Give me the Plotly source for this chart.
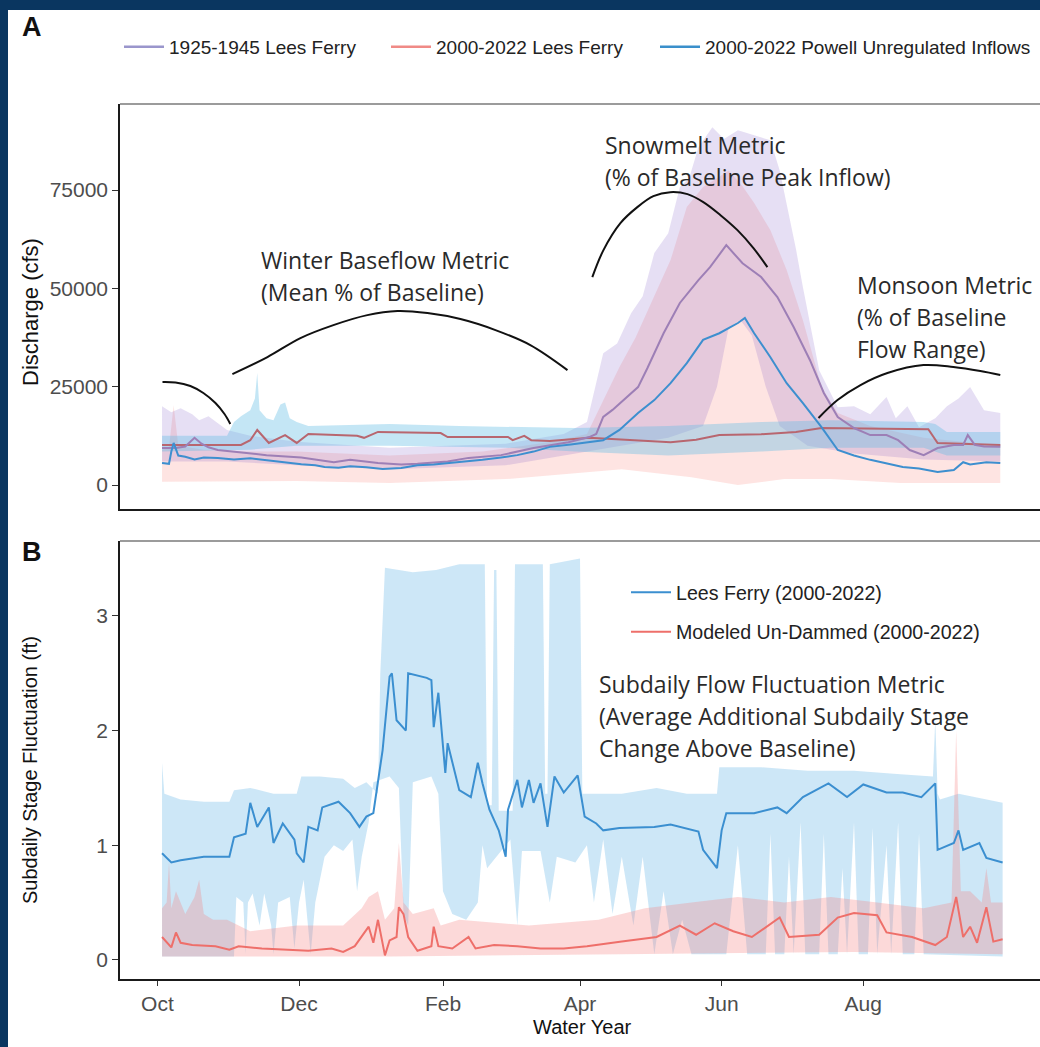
import plotly.graph_objects as go

# ---------------- shared x axis (days since 1 Oct of the water year) ----------------
month_tick_days = [0, 61, 123, 182, 243, 304]
month_tick_labels = ["Oct", "Dec", "Feb", "Apr", "Jun", "Aug"]

# ---------------- Panel A : discharge (cfs) ----------------
a_tick_vals = [0, 25000, 50000, 75000]
a_tick_text = ["0", "25000", "50000", "75000"]

# 2000-2022 Powell unregulated inflows (median)
inflow_day = [2, 5, 6, 7, 9, 12, 16, 20, 26, 33, 40, 47, 54, 62, 68, 72, 78, 83, 90, 97,
              105, 112, 119, 126, 133, 140, 148, 155, 162, 169, 178, 186, 192, 199, 207, 214, 221, 228, 235, 242,
              246, 250, 253, 257, 264, 271, 278, 286, 293, 300, 307, 314, 321, 328, 336, 343, 347, 350, 357, 363]
inflow_cfs = [5600, 5400, 8500, 10700, 7500, 7200, 6500, 7000, 6900, 6500, 6800, 6300, 5800, 5300, 5000, 4600, 4400, 4800, 4500, 4100,
              4300, 5000, 5200, 5600, 5900, 6400, 7000, 7600, 8500, 9700, 10300, 10900, 11400, 14000, 18300, 21600, 25900, 31000, 36900, 38600,
              39800, 41200, 42500, 38600, 32500, 25900, 20800, 14700, 8900, 7500, 6400, 5500, 4600, 4200, 3300, 3800, 5800, 5200, 5800, 5600]

# 1925-1945 Lees Ferry (median)
hist_day = [2, 8, 12, 16, 19, 22, 26, 35, 47, 62, 76, 83, 95, 105, 112, 125, 134, 148, 162, 177,
            186, 189, 192, 196, 207, 211, 218, 225, 233, 238, 245, 252, 260, 267, 274, 281, 287, 293, 300, 307,
            314, 319, 324, 330, 336, 343, 347, 349, 352, 356, 363]
hist_cfs = [9400, 9400, 9800, 12000, 10500, 9600, 8900, 8300, 7600, 7000, 5800, 6400, 5600, 5200, 5400, 6000, 6900, 7600, 9400, 10900,
            12200, 13000, 17300, 19100, 24900, 29700, 38600, 46300, 52100, 55400, 61000, 56400, 52900, 47800, 40200, 31800, 23400, 17300, 14500, 12700,
            12700, 11400, 8900, 7600, 9400, 10200, 10200, 12700, 10200, 9800, 9700]

# 2000-2022 Lees Ferry (median)
lf_day = [2, 36, 40, 43, 48, 55, 60, 65, 86, 89, 95, 122, 125, 151, 153, 158, 161, 169, 186, 200,
          221, 232, 242, 260, 275, 286, 310, 332, 336, 363]
lf_cfs = [10200, 10200, 11400, 14000, 10700, 12700, 10700, 13000, 12500, 12000, 13500, 13200, 12200, 12200, 11400, 12500, 11400, 11200, 12000, 11500,
          10900, 11500, 12700, 12900, 13500, 14500, 14300, 14200, 10700, 10200]

# ranges (ribbons)
hist_hi_day = [2, 6, 10, 15, 18, 22, 30, 40, 60, 100, 150, 175, 185, 192, 198, 204, 209, 214, 220, 225,
               229, 233, 239, 244, 250, 257, 264, 268, 271, 275, 278, 285, 293, 300, 307, 314, 318, 323, 328, 335,
               340, 345, 350, 356, 363]
hist_hi = [20000, 18500, 19500, 18000, 16500, 17500, 14000, 12500, 11000, 9500, 10500, 13000, 16000, 33500, 36000, 43700, 48000, 59000, 64000, 75800,
           78000, 85900, 91000, 88000, 90200, 89000, 87700, 80000, 71700, 60000, 50300, 29200, 19800, 20000, 18000, 22400, 17000, 20000, 14700, 17000,
           20000, 22000, 24900, 19000, 18300]
hist_lo_day = [2, 30, 60, 100, 150, 180, 200, 220, 235, 241, 246, 251, 256, 262, 268, 280, 300, 330, 363]
hist_lo = [6000, 6000, 5000, 4000, 5000, 8000, 10000, 12000, 15000, 25000, 40000, 42000, 38000, 25000, 15000, 10000, 8000, 6500, 6000]

inflow_hi_day = [2, 5, 7, 9, 20, 40, 60, 100, 140, 170, 185, 192, 199, 206, 214, 221, 228, 235, 241, 246,
                 252, 257, 264, 271, 278, 286, 293, 307, 330, 363]
inflow_hi = [9000, 9500, 20300, 10000, 9000, 8500, 8500, 7500, 8500, 11000, 13000, 21600, 30000, 37600, 48000, 57200, 70700, 75800, 78000, 80000,
             76000, 71700, 64800, 54700, 41900, 24900, 18300, 15000, 12000, 10000]
inflow_lo_day = [2, 60, 100, 150, 180, 200, 230, 250, 270, 290, 320, 363]
inflow_lo = [800, 1000, 500, 1500, 3000, 4000, 2000, 0, 1500, 1500, 500, 500]

lf_hi_day = [2, 30, 33, 36, 40, 42, 43, 44, 47, 50, 53, 55, 57, 60, 65, 100, 130, 180, 220, 260,
             290, 330, 335, 340, 363]
lf_hi = [12500, 12500, 16000, 17500, 19000, 22000, 28500, 19000, 17000, 16500, 20500, 21000, 17000, 16000, 15000, 15500, 15000, 14500, 15000, 16000,
         16500, 16000, 15500, 13500, 13500]
lf_lo_day = [2, 40, 60, 100, 150, 180, 220, 260, 290, 330, 340, 363]
lf_lo = [8500, 9000, 10000, 10000, 9500, 8500, 7500, 8500, 9500, 9500, 7500, 7500]

# metric brackets (drawn in data units)
arc_oct_day = [2.2, 7.8, 14.2, 19.8, 25.0, 28.9, 31.4]
arc_oct_cfs = [26180, 26060, 25170, 23390, 20840, 18050, 15510]
arc_winter_day = [32.3, 47.4, 61.6, 75.8, 90.4, 103.4, 116.3, 130.5, 145.6, 160.6, 176.6]
arc_winter_cfs = [28220, 32540, 37370, 40670, 43210, 44230, 43720, 42200, 39400, 35590, 29230]
arc_snow_day = [187.3, 192.1, 199.4, 206.7, 213.6, 220.9, 228.3, 235.1, 242.5, 249.8, 256.7, 262.7]
arc_snow_cfs = [52870, 59740, 66600, 70670, 73460, 74480, 73970, 71940, 68630, 64820, 60250, 55420]
arc_monsoon_day = [284.7, 292.9, 302.8, 314.4, 329.9, 342.8, 354.4, 363.0]
arc_monsoon_cfs = [17030, 21610, 25420, 28470, 30500, 30000, 28980, 27960]

# ---------------- Panel B : subdaily stage fluctuation (ft) ----------------
b_tick_vals = [0, 1, 2, 3]
b_tick_text = ["0", "1", "2", "3"]

stage_day = [2, 6, 10, 20, 31, 33, 38, 40, 43, 48, 50, 54, 59, 60, 63, 65, 69, 71, 78, 83,
             87, 90, 93, 97, 100, 101, 103, 107, 108, 116, 118, 119, 121, 124, 125, 127, 130, 135, 138, 140,
             143, 147, 150, 151, 155, 157, 160, 162, 165, 168, 171, 175, 181, 184, 189, 192, 199, 214, 221, 233,
             235, 241, 243, 245, 257, 267, 271, 278, 289, 297, 304, 314, 321, 329, 335, 336, 343, 345, 347, 354,
             357, 364]
stage_ft = [0.93, 0.85, 0.87, 0.9, 0.9, 1.07, 1.1, 1.37, 1.16, 1.33, 1.02, 1.19, 1.05, 0.93, 0.85, 1.16, 1.13, 1.33, 1.38, 1.28,
            1.16, 1.25, 1.28, 1.83, 2.47, 2.5, 2.09, 2.0, 2.5, 2.46, 2.44, 2.03, 2.33, 1.63, 1.89, 1.72, 1.48, 1.42, 1.72, 1.54,
            1.31, 1.13, 0.9, 1.31, 1.57, 1.33, 1.57, 1.37, 1.54, 1.16, 1.6, 1.46, 1.61, 1.25, 1.19, 1.13, 1.15, 1.16, 1.18, 1.12,
            0.96, 0.8, 1.13, 1.28, 1.28, 1.33, 1.28, 1.42, 1.54, 1.42, 1.53, 1.46, 1.46, 1.42, 1.54, 0.96, 1.02, 1.13, 0.96, 1.02,
            0.89, 0.85]

undam_day = [2, 6, 8, 10, 15, 25, 31, 35, 45, 55, 65, 75, 80, 85, 88, 91, 93, 95, 98, 100,
             103, 104, 106, 108, 112, 118, 119, 121, 127, 134, 137, 145, 155, 165, 175, 185, 200, 215, 225, 232,
             240, 248, 256, 268, 272, 285, 293, 300, 310, 314, 325, 335, 340, 344, 347, 350, 353, 357, 360, 364]
undam_ft = [0.2, 0.11, 0.24, 0.15, 0.13, 0.12, 0.09, 0.12, 0.1, 0.09, 0.08, 0.1, 0.07, 0.12, 0.2, 0.29, 0.15, 0.35, 0.04, 0.17,
            0.2, 0.46, 0.4, 0.2, 0.08, 0.12, 0.29, 0.12, 0.1, 0.2, 0.1, 0.13, 0.12, 0.1, 0.1, 0.12, 0.16, 0.2, 0.3, 0.22,
            0.32, 0.25, 0.2, 0.37, 0.2, 0.22, 0.37, 0.41, 0.39, 0.24, 0.2, 0.13, 0.2, 0.55, 0.2, 0.29, 0.15, 0.46, 0.16, 0.18]

stage_hi_day = [2, 3, 10, 20, 31, 33, 40, 50, 60, 62, 70, 80, 85, 90, 95, 96, 98, 110, 120, 130,
                141, 142, 144, 145, 146, 147, 153, 154, 166, 167, 168, 169, 182, 183, 200, 215, 228, 241, 242, 260,
                280, 300, 320, 334, 335, 336, 337, 345, 364]
stage_hi = [1.72, 1.45, 1.4, 1.38, 1.38, 1.48, 1.5, 1.45, 1.45, 1.6, 1.6, 1.58, 1.5, 1.55, 1.45, 2.5, 3.42, 3.38, 3.4, 3.45,
            3.45, 1.35, 1.35, 3.4, 3.4, 1.3, 1.3, 3.45, 3.45, 1.45, 1.45, 3.45, 3.5, 1.45, 1.45, 1.5, 1.45, 1.45, 1.68, 1.68,
            1.65, 1.65, 1.62, 1.6, 2.1, 1.45, 1.4, 1.45, 1.37]
stage_lo_day = [2, 33, 34, 37, 38, 39, 41, 44, 46, 49, 50, 52, 57, 59, 61, 63, 66, 68, 72, 76,
                80, 84, 86, 88, 91, 93, 100, 104, 106, 108, 110, 118, 121, 123, 127, 133, 138, 140, 142, 146,
                152, 155, 157, 165, 169, 172, 180, 185, 188, 192, 196, 200, 205, 209, 214, 218, 222, 226, 230, 245,
                250, 254, 262, 264, 266, 270, 272, 274, 277, 279, 285, 287, 289, 293, 295, 297, 300, 302, 306, 308,
                310, 314, 316, 319, 321, 326, 328, 330, 364]
stage_lo = [0.03, 0.03, 0.55, 0.5, 0.05, 0.5, 0.58, 0.3, 0.58, 0.3, 0.05, 0.5, 0.55, 0.1, 0.5, 0.7, 0.05, 0.5, 0.9, 1.0,
            0.95, 1.05, 0.6, 0.9, 1.2, 1.55, 1.6, 1.5, 0.4, 0.3, 1.55, 1.6, 1.45, 0.6, 0.4, 0.35, 0.5, 1.0, 0.8, 0.9,
            1.05, 0.3, 0.95, 0.95, 0.5, 0.9, 0.85, 1.0, 0.5, 1.05, 0.4, 0.9, 0.3, 0.9, 0.05, 0.6, 0.05, 0.35, 0.05, 0.05,
            1.0, 0.05, 0.05, 1.1, 0.05, 0.05, 0.9, 0.05, 1.2, 0.05, 0.05, 1.1, 0.05, 0.05, 0.8, 0.05, 1.2, 0.05, 0.05, 1.15,
            0.05, 1.0, 0.05, 1.2, 0.05, 0.05, 1.1, 0.05, 0.03]

undam_hi_day = [2, 4, 5, 6, 8, 12, 16, 18, 20, 24, 30, 40, 60, 80, 88, 91, 95, 98, 102, 104,
                106, 110, 119, 122, 130, 160, 190, 210, 230, 250, 270, 290, 310, 330, 342, 344, 346, 350, 355, 357,
                359, 364]
undam_hi = [0.45, 0.5, 0.85, 0.45, 0.6, 0.4, 0.55, 0.7, 0.4, 0.35, 0.35, 0.25, 0.3, 0.3, 0.45, 0.55, 0.6, 0.35, 0.45, 1.02,
            0.5, 0.4, 0.45, 0.3, 0.35, 0.3, 0.35, 0.45, 0.5, 0.55, 0.5, 0.55, 0.5, 0.45, 0.5, 2.0, 0.6, 0.6, 0.5, 0.8,
            0.5, 0.5]
undam_lo_day = [2, 100, 200, 300, 364]
undam_lo = [0.03, 0.03, 0.05, 0.07, 0.05]

# ---------------- styling ----------------
W, H = 1040, 1047
NAVY = "#0a3660"
ARIAL = "Liberation Sans, Arial, Helvetica, sans-serif"
MYRIAD = "Open Sans, Noto Sans, sans-serif"
X_RANGE = [-16.1, 380.1]


def px(x):
    return x / W


def py(y):
    return 1 - y / H


def ribbon(xu, yu, xl, yl, color, xa, ya):
    return go.Scatter(x=list(xu) + list(xl)[::-1], y=list(yu) + list(yl)[::-1],
                      fill="toself", fillcolor=color, mode="lines", line=dict(width=0),
                      hoverinfo="skip", showlegend=False, xaxis=xa, yaxis=ya)


def line(xv, yv, color, xa, ya, width=2.0, shape="linear"):
    return go.Scatter(x=xv, y=yv, mode="lines", line=dict(color=color, width=width, shape=shape),
                      hoverinfo="skip", showlegend=False, xaxis=xa, yaxis=ya)


fig = go.Figure()

# Panel A ribbons
fig.add_trace(ribbon(inflow_hi_day, inflow_hi, inflow_lo_day, inflow_lo, "rgba(248,118,109,0.20)", "x", "y"))
fig.add_trace(ribbon(hist_hi_day, hist_hi, hist_lo_day, hist_lo, "rgba(130,95,200,0.20)", "x", "y"))
fig.add_trace(ribbon(lf_hi_day, lf_hi, lf_lo_day, lf_lo, "rgba(100,190,230,0.38)", "x", "y"))
# Panel A lines
fig.add_trace(line(lf_day, lf_cfs, "#b8666f", "x", "y"))
fig.add_trace(line(hist_day, hist_cfs, "#9d7fb6", "x", "y"))
fig.add_trace(line(inflow_day, inflow_cfs, "#3d8fcf", "x", "y"))
# Panel A brackets
for ad, ac in [(arc_oct_day, arc_oct_cfs), (arc_winter_day, arc_winter_cfs),
               (arc_snow_day, arc_snow_cfs), (arc_monsoon_day, arc_monsoon_cfs)]:
    fig.add_trace(line(ad, ac, "#111111", "x", "y", width=2.0, shape="spline"))

# Panel A legend entries
for name, col, lg in [("1925-1945 Lees Ferry", "#9a96cc", "legend"),
                      ("2000-2022 Lees Ferry", "#f08a86", "legend"),
                      ("2000-2022 Powell Unregulated Inflows", "#3a8fcb", "legend3")]:
    fig.add_trace(go.Scatter(x=[None], y=[None], mode="lines", name=name,
                             line=dict(color=col, width=2.5), legend=lg,
                             xaxis="x", yaxis="y", showlegend=True))

# Panel B ribbons
fig.add_trace(ribbon(stage_hi_day, stage_hi, stage_lo_day, stage_lo, "rgba(130,195,235,0.40)", "x2", "y2"))
fig.add_trace(ribbon(undam_hi_day, undam_hi, undam_lo_day, undam_lo, "rgba(245,130,130,0.30)", "x2", "y2"))
# Panel B lines (with legend)
fig.add_trace(go.Scatter(x=stage_day, y=stage_ft, mode="lines", name="Lees Ferry (2000-2022)",
                         line=dict(color="#3b8fd0", width=2), legend="legend2", legendgroup="g1",
                         xaxis="x2", yaxis="y2", hoverinfo="skip"))
fig.add_trace(go.Scatter(x=undam_day, y=undam_ft, mode="lines", name="Modeled Un-Dammed (2000-2022)",
                         line=dict(color="#ee6f6a", width=2), legend="legend2", legendgroup="g2",
                         xaxis="x2", yaxis="y2", hoverinfo="skip"))

axis_common = dict(showgrid=False, zeroline=False, showline=True, linecolor="#1a1a1a",
                   automargin=False)
xdom = [px(120), 1.0]
LEG_FONT_A = dict(family=ARIAL, size=19, color="#222222")

fig.update_layout(
    width=W, height=H, autosize=False,
    margin=dict(l=0, r=0, t=0, b=0, autoexpand=False),
    paper_bgcolor="white", plot_bgcolor="white",
    font=dict(family=ARIAL, color="#222222"),
    xaxis=dict(domain=xdom, range=X_RANGE, anchor="y", linewidth=2, ticks="",
               showticklabels=False, **axis_common),
    yaxis=dict(domain=[py(509), py(104)], range=[-6100, 96900], anchor="x", linewidth=1.5,
               ticks="outside", ticklen=6, tickwidth=1.3, tickcolor="#333333",
               tickvals=a_tick_vals, ticktext=a_tick_text,
               tickfont=dict(family=ARIAL, size=21, color="#4d4d4d"), **axis_common),
    xaxis2=dict(domain=xdom, range=X_RANGE, anchor="y2", linewidth=2,
                ticks="outside", ticklen=5, tickwidth=1.3, tickcolor="#333333",
                tickvals=month_tick_days, ticktext=month_tick_labels,
                tickfont=dict(family=ARIAL, size=21, color="#4d4d4d"), **axis_common),
    yaxis2=dict(domain=[py(979), py(541)], range=[-0.166, 3.653], anchor="x2", linewidth=1.5,
                ticks="outside", ticklen=6, tickwidth=1.3, tickcolor="#333333",
                tickvals=b_tick_vals, ticktext=b_tick_text,
                tickfont=dict(family=ARIAL, size=21, color="#4d4d4d"), **axis_common),
    legend=dict(orientation="h", x=px(119), y=py(47), xanchor="left", yanchor="middle",
                font=LEG_FONT_A, bgcolor="rgba(0,0,0,0)",
                entrywidth=212, entrywidthmode="pixels", itemwidth=40),
    legend3=dict(orientation="h", x=px(655), y=py(47), xanchor="left", yanchor="middle",
                 font=LEG_FONT_A, bgcolor="rgba(0,0,0,0)", itemwidth=40),
    legend2=dict(orientation="v", x=px(626), y=py(573), xanchor="left", yanchor="top",
                 font=dict(family=ARIAL, size=19.6, color="#222222"), bgcolor="rgba(0,0,0,0)",
                 tracegroupgap=11, itemwidth=40),
    showlegend=True,
)

# frame tops, navy border strips
fig.add_shape(type="line", xref="x domain", yref="y domain", x0=0, x1=1, y0=1, y1=1,
              line=dict(color="#7a7a7a", width=1.5))
fig.add_shape(type="line", xref="x2 domain", yref="y2 domain", x0=0, x1=1, y0=1, y1=1,
              line=dict(color="#7a7a7a", width=1.5))
fig.add_shape(type="rect", xref="paper", yref="paper", x0=0, x1=px(8), y0=0, y1=1,
              fillcolor=NAVY, line=dict(width=0), layer="above")
fig.add_shape(type="rect", xref="paper", yref="paper", x0=0, x1=1, y0=py(10), y1=1,
              fillcolor=NAVY, line=dict(width=0), layer="above")

# text
def txt(s, x, y, size, family=ARIAL, color="#222222", angle=0, xanchor="left", bold=False):
    fig.add_annotation(text=("<b>%s</b>" % s) if bold else s, x=px(x), y=py(y), xref="paper", yref="paper",
                       xanchor=xanchor, yanchor="middle", showarrow=False, textangle=angle,
                       font=dict(family=family, size=size, color=color))

txt("A", 20, 27, 27, bold=True, color="#111111")
txt("B", 20, 552, 27, bold=True, color="#111111")
txt("Discharge (cfs)", 30, 312, 22, angle=-90, xanchor="center", color="#111111")
txt("Subdaily Stage Fluctuation (ft)", 30, 770, 20, angle=-90, xanchor="center", color="#111111")
txt("Water Year", 582, 1027, 20, xanchor="center", color="#111111")

for s, x, y in [("Winter Baseflow Metric", 259, 260), ("(Mean % of Baseline)", 259, 292),
                ("Snowmelt Metric", 603, 145), ("(% of Baseline Peak Inflow)", 603, 177),
                ("Monsoon Metric", 855, 285), ("(% of Baseline", 855, 317), ("Flow Range)", 855, 349),
                ("Subdaily Flow Fluctuation Metric", 597, 684),
                ("(Average Additional Subdaily Stage", 597, 716),
                ("Change Above Baseline)", 597, 748)]:
    txt(s, x, y, 23, family=MYRIAD, color="#2a2a2a")

fig.write_html("out.html", config={"displayModeBar": False})

with open("out.html", "r", encoding="utf-8") as f:
    html = f.read()
html = html.replace("<head>", "<head><style>html,body{margin:0;padding:0;overflow:hidden;}</style>", 1)
with open("out.html", "w", encoding="utf-8") as f:
    f.write(html)
